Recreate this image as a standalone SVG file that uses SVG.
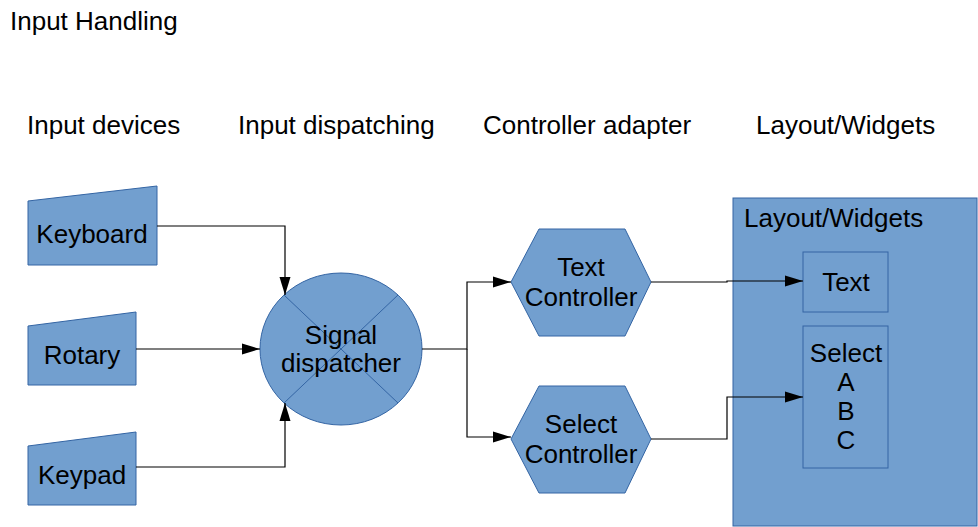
<svg xmlns="http://www.w3.org/2000/svg" width="978" height="527" viewBox="0 0 978 527">
<defs>
<style>
text{font-family:"Liberation Sans",Arial,sans-serif;font-size:26px;fill:#000}
.c{text-anchor:middle}
.shape{fill:#729fcf;stroke:#3465a4;stroke-width:1}
.inner{fill:none;stroke:#3465a4;stroke-width:1}
.conn{fill:none;stroke:#000;stroke-width:1.2}
</style>
<marker id="arr" markerWidth="18" markerHeight="12" refX="18" refY="6" orient="auto" markerUnits="userSpaceOnUse">
<path d="M0,0.5 L18,6 L0,11.5 Z" fill="#000"/>
</marker>
</defs>
<rect width="978" height="527" fill="#fff"/>
<text x="10" y="30">Input Handling</text>
<g id="headers">
<text x="27" y="134">Input devices</text>
<text x="238" y="134">Input dispatching</text>
<text x="483" y="134">Controller adapter</text>
<text x="756" y="134">Layout/Widgets</text>
</g>
<g id="layout">
<rect class="shape" x="733" y="198" width="244" height="328"/>
<text x="744" y="227">Layout/Widgets</text>
</g>
<g id="keyboard">
<polygon class="shape" points="28,201 157,186 157,265 28,265"/>
<text class="c" x="92" y="243">Keyboard</text>
</g>
<g id="rotary">
<polygon class="shape" points="28,326 136,312 136,385 28,385"/>
<text class="c" x="82" y="364">Rotary</text>
</g>
<g id="keypad">
<polygon class="shape" points="28,446 136,432 136,505 28,505"/>
<text class="c" x="82" y="484">Keypad</text>
</g>
<g id="dispatcher">
<ellipse class="shape" cx="341" cy="349" rx="81" ry="76"/>
<path class="inner" d="M284,295 L398,403 M398,295 L284,403"/>
<text class="c" x="341" y="344">Signal</text>
<text class="c" x="341" y="372">dispatcher</text>
</g>
<g id="textController">
<polygon class="shape" points="511,282 539,229 625,229 651,282 625,336 539,336"/>
<text class="c" x="581" y="276">Text</text>
<text class="c" x="581" y="306">Controller</text>
</g>
<g id="selectController">
<polygon class="shape" points="511,439 539,386 625,386 651,439 625,493 539,493"/>
<text class="c" x="581" y="433">Select</text>
<text class="c" x="581" y="463">Controller</text>
</g>
<g id="textWidget">
<rect class="shape" x="803" y="252" width="85" height="60"/>
<text class="c" x="846" y="291">Text</text>
</g>
<g id="selectWidget">
<rect class="shape" x="803" y="326" width="85" height="142"/>
<text class="c" x="846" y="362">Select</text>
<text class="c" x="846" y="391">A</text>
<text class="c" x="846" y="420">B</text>
<text class="c" x="846" y="449">C</text>
</g>
<g id="connectors">
<path class="conn" marker-end="url(#arr)" d="M157,226 H285 V295"/>
<path class="conn" marker-end="url(#arr)" d="M136,349 H260"/>
<path class="conn" marker-end="url(#arr)" d="M136,467 H285 V403"/>
<path class="conn" marker-end="url(#arr)" d="M422,349 H467 V282 H511"/>
<path class="conn" marker-end="url(#arr)" d="M467,349 V437 H511"/>
<path class="conn" marker-end="url(#arr)" d="M651,282 H727 V281 H803"/>
<path class="conn" marker-end="url(#arr)" d="M651,439 H727 V397 H803"/>
</g>
</svg>
